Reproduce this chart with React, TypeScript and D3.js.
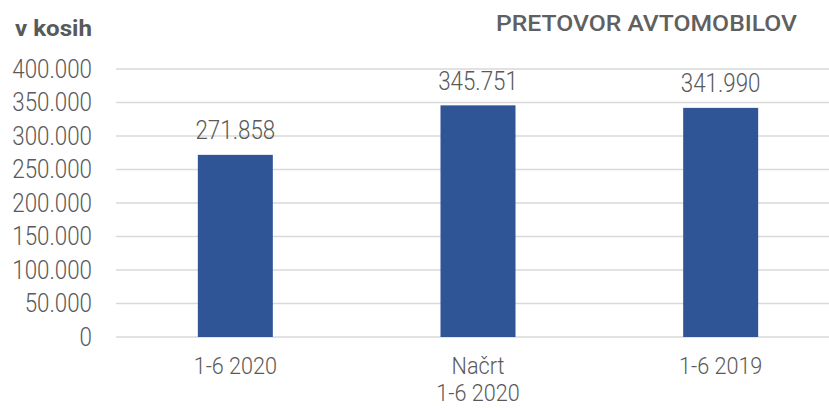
import * as d3 from 'd3';

const categories = ['1-6 2020', 'Načrt\n1-6 2020', '1-6 2019'];
const values = [271858, 345751, 341990];
const yTicks = [0, 50000, 100000, 150000, 200000, 250000, 300000, 350000, 400000];
const unitLabel = 'v kosih';
const title = 'PRETOVOR AVTOMOBILOV';

const W = 829;
const H = 408;
const FONT = 'Roboto, "DejaVu Sans", sans-serif';
const TEXT = '#595959';

const fmt = (v: number) => d3.format(',')(v).replace(/,/g, '.');

// narrow text: squeeze horizontally to mimic the condensed font
function NText({ x, y, anchor = 'middle', size = 26, gap = 25, sx = 0.86, lines }: any) {
  const rows: string[] = String(lines).split('\n');
  return (
    <g transform={`translate(${x},${y}) scale(${sx},1)`}>
      <text textAnchor={anchor} dominantBaseline="central" fill={TEXT}
        style={{ fontFamily: FONT, fontSize: size, fontWeight: 300 }}>
        {rows.map((r, j) => (
          <tspan key={j} x={0} dy={j === 0 ? 0 : gap}>{r}</tspan>
        ))}
      </text>
    </g>
  );
}

export default function App() {
  const x = d3.scaleBand<number>()
    .domain(d3.range(categories.length))
    .range([114, 842]);
  const y = d3.scaleLinear().domain([0, 400000]).range([337, 69]);
  const barW = 75;

  return (
    <svg width={W} height={H} style={{ position: 'absolute', left: 0, top: 0, background: '#fff' }}>
      <text x={15} y={28} dominantBaseline="central" fill={TEXT} textLength={77} lengthAdjust="spacingAndGlyphs"
        style={{ fontFamily: FONT, fontSize: 22, fontWeight: 700 }}>
        {unitLabel}
      </text>
      <text x={496} y={23} dominantBaseline="central" fill="#606060" textLength={301} lengthAdjust="spacingAndGlyphs"
        style={{ fontFamily: FONT, fontSize: 22, fontWeight: 500 }}>
        {title}
      </text>

      {yTicks.map(t => (
        <g key={t}>
          <line x1={116} x2={W} y1={y(t)} y2={y(t)} stroke="#d9d9d9" strokeWidth={1.5} />
          <NText x={92} y={y(t)} anchor="end" lines={fmt(t)} />
        </g>
      ))}

      {values.map((v, i) => {
        const cx = (x(i) as number) + x.bandwidth() / 2;
        return (
          <g key={i}>
            <rect x={cx - barW / 2} y={y(v)} width={barW} height={y(0) - y(v)} fill="#2f5597" />
            <NText x={cx} y={y(v) - 24} lines={fmt(v)} />
            <NText x={cx} y={366} size={23} gap={27} sx={0.94} lines={categories[i]} />
          </g>
        );
      })}
    </svg>
  );
}
